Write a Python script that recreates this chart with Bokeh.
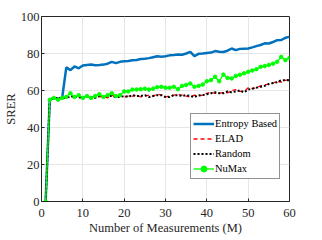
from bokeh.plotting import figure
from bokeh.models import Range1d, Legend, LegendItem, FixedTicker
from bokeh.embed import file_html
from bokeh.resources import INLINE

m = list(range(1, 61))
entropy = [0, 55, 56, 55.5, 56, 72.5, 71, 73, 72, 73.5,
           73.8, 74, 73.7, 73.8, 74, 74.5, 75.5, 74.8, 75.5, 75.8,
           76, 76.3, 76.5, 77, 77.2, 77.5, 78, 78.5, 78.3, 78.5,
           79, 79.2, 79.5, 79.3, 80, 80.9, 78.6, 79.8, 80, 80.3,
           80.5, 81.3, 80.9, 80.8, 81.5, 82.7, 81.8, 82.5, 82.6, 82.7,
           83.3, 84, 84.6, 85.5, 85.4, 86.2, 87.2, 87.3, 88.5, 89]
elad = [0, 55, 55.5, 56.5, 55.5, 56.5, 56, 57, 56, 56.5,
        57, 56, 57, 56.5, 57, 56, 57.5, 56.5, 57, 56.5,
        57, 57, 57.5, 56.5, 57, 57.5, 57, 58, 57.5, 56.5,
        57, 57.5, 57.8, 57.5, 57, 56.5, 57.5, 57, 57.5, 58.5,
        59, 58.5, 58.5, 59, 58.7, 60, 60.5, 59.5, 59.5, 61.5,
        61, 61.5, 62.5, 63, 63.5, 64, 65, 64.5, 65.5, 66]
random_ = [0, 55, 56, 56, 56, 56, 57, 56.5, 56.5, 56,
           57, 56.5, 56, 57, 56.5, 57, 57, 56.5, 56.5, 57,
           56.5, 57.5, 57, 57, 57.5, 56.5, 57, 57.5, 57.5, 56.5,
           56.5, 57.5, 57.5, 57, 57.5, 57, 56.5, 57.5, 57.5, 58,
           58.5, 59, 58.5, 58.5, 59.5, 59, 59.5, 60, 59, 60.5,
           61, 61.5, 62, 62.5, 63.5, 64, 64.5, 65.5, 65.5, 65.5]
numax = [0, 55, 56, 55, 56, 56.5, 58.5, 56.5, 57.5, 56,
         57, 56, 57, 58, 56.5, 57.5, 58.5, 57, 57.5, 59.5,
         59.5, 60.5, 60.5, 60.7, 61, 60.5, 61, 61.8, 62, 61.5,
         61.5, 62, 60.7, 62.5, 63, 63.8, 62, 62.5, 63.2, 65,
         65.6, 67.4, 65, 68.6, 66.8, 66.5, 67.9, 68.5, 69.3, 70.1,
         70.8, 71.5, 72.8, 73.2, 73.8, 74.5, 75.5, 78.2, 76.4, 77.7]

x_ticks = [0, 10, 20, 30, 40, 50, 60]
y_ticks = [0, 20, 40, 60, 80, 100]

FONT = "Liberation Serif"

p = figure(width=318, height=238, output_backend="svg", toolbar_location=None,
           x_range=Range1d(0, 60), y_range=Range1d(0, 100),
           min_border_left=39, min_border_right=29, min_border_top=16, min_border_bottom=37)
p.background_fill_color = "white"
p.border_fill_color = "white"
p.outline_line_color = "#262626"
p.outline_line_width = 1

for ax in (p.xaxis[0], p.yaxis[0]):
    ax.major_tick_in = 3
    ax.major_tick_out = 0
    ax.minor_tick_in = 0
    ax.minor_tick_out = 0
    ax.axis_line_color = "#262626"
    ax.major_tick_line_color = "#262626"
    ax.major_label_text_font = FONT
    ax.major_label_text_font_size = "12.5px"
    ax.major_label_text_color = "#262626"
    ax.axis_label_text_font = FONT
    ax.axis_label_text_font_size = "12.5px"
    ax.axis_label_text_font_style = "normal"
    ax.axis_label_text_color = "#262626"
p.xaxis.major_label_standoff = 7
p.xaxis.axis_label_standoff = 1
p.yaxis.major_label_standoff = 2
p.yaxis.axis_label_standoff = 0
p.xaxis.ticker = FixedTicker(ticks=x_ticks)
p.yaxis.ticker = FixedTicker(ticks=y_ticks)
p.xaxis.axis_label = "Number of Measurements (M)"
p.yaxis.axis_label = "SRER"
p.xgrid.ticker = FixedTicker(ticks=x_ticks)
p.ygrid.ticker = FixedTicker(ticks=y_ticks)
p.grid.grid_line_color = "#e6e6e6"
p.grid.grid_line_width = 1

r1 = p.line(m, entropy, line_color="#0072BD", line_width=2.5)
r2 = p.line(m, elad, line_color="#FF0000", line_width=1.3, line_dash="4 3")
r3 = p.line(m, random_, line_color="#000000", line_width=2, line_dash="2 2")
r4 = p.line(m, numax, line_color="#00FF00", line_width=1.3)
r4m = p.scatter(m, numax, size=3.5, marker="circle", fill_color="#00FF00", line_color="#00FF00")

legend = Legend(items=[LegendItem(label="Entropy Based", renderers=[r1]),
                       LegendItem(label="ELAD", renderers=[r2]),
                       LegendItem(label="Random", renderers=[r3]),
                       LegendItem(label="NuMax", renderers=[r4, r4m])],
                location=(149, 22))
legend.label_text_font = FONT
legend.label_text_font_size = "10.5px"
legend.label_text_color = "#000000"
legend.glyph_width = 21
legend.glyph_height = 15
legend.label_height = 15
legend.label_standoff = 1
legend.spacing = 0
legend.padding = 2
legend.margin = 0
legend.border_line_color = "#262626"
legend.border_line_width = 1
legend.background_fill_alpha = 1
p.add_layout(legend, "center")

open("out.html", "w").write(file_html(p, INLINE))
